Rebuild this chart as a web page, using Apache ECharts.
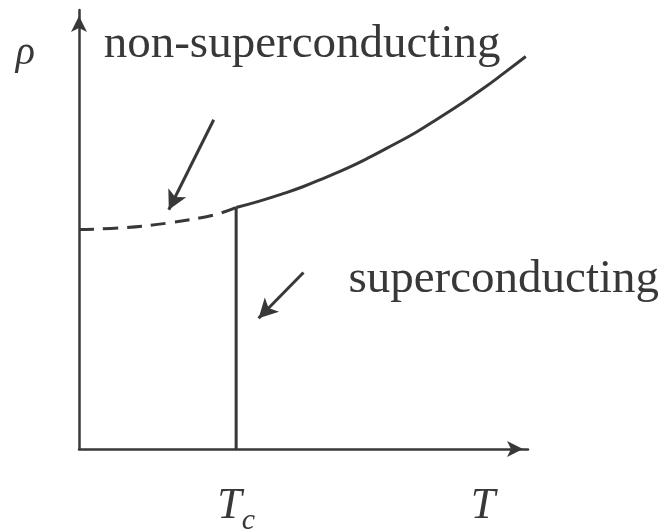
<!DOCTYPE html>
<html>
<head>
<meta charset="utf-8">
<script src="https://cdn.jsdelivr.net/npm/echarts@6/dist/echarts.min.js"></script>
<style>
  html, body { margin: 0; padding: 0; background: #ffffff; }
  #chart { width: 660px; height: 530px; }
</style>
</head>
<body>
<div id="chart"></div>
<script>
// Resistivity vs temperature for a superconductor (schematic)
const criticalT = 3.5;

// Extrapolated normal-state resistivity below Tc (dashed)
const belowTcT   = [0, 1, 2, 3, 3.5];
const belowTcRho = [5.0, 5.04, 5.15, 5.33, 5.5];

// Normal-state resistivity above Tc (solid)
const aboveTcT   = [3.5, 4, 4.5, 5, 5.5, 6, 6.5, 7, 7.5, 8, 8.5, 9, 9.5, 9.95];
const aboveTcRho = [5.5, 5.64, 5.80, 5.98, 6.19, 6.41, 6.66, 6.93, 7.21, 7.53, 7.86, 8.21, 8.59, 8.94];

// Drop to zero at Tc
const dropT   = [3.5, 3.5];
const dropRho = [0, 5.5];

// Axis tick labels
const xTickValues = [criticalT, 9];
const xTickLabels = ['{t|T}{s|c}', '{t|T}'];
const yTickValues = [9];
const yTickLabels = ['ρ'];

// Annotations: [label, anchor T, anchor rho]
const labelNonSC = ['non-superconducting', 0.55, 9.2];
const labelSC    = ['superconducting', 6.0, 3.85];

// Pointer arrows: [fromT, fromRho, toT, toRho]
const arrowNonSC = [3.0, 7.5, 2.0, 5.45];
const arrowSC    = [5.0, 4.02, 4.0, 2.98];

const ink = '#383838';
const serif = '"Liberation Serif", "DejaVu Serif", serif';

const zip = (a, b) => a.map((v, i) => [v, b[i]]);

const arrowLine = (a) => [{ coord: [a[0], a[1]] }, { coord: [a[2], a[3]] }];

const chart = echarts.init(document.getElementById('chart'), null, { renderer: 'canvas' });

chart.setOption({
  backgroundColor: '#ffffff',
  animation: false,
  grid: { left: 79, right: 132, top: 10, bottom: 81, outerBoundsMode: 'none' },
  xAxis: {
    type: 'value', min: 0, max: 10,
    splitLine: { show: false },
    axisTick: { show: false },
    axisLine: {
      onZero: false,
      symbol: ['none', 'arrow'], symbolSize: [12, 16], symbolOffset: [0, -5],
      lineStyle: { color: ink, width: 2.5 }
    },
    axisLabel: {
      customValues: xTickValues,
      margin: 27,
      formatter: (v) => xTickLabels[xTickValues.indexOf(v)],
      rich: {
        t: { fontFamily: serif, fontStyle: 'italic', fontSize: 44, color: ink, lineHeight: 60 },
        s: { fontFamily: serif, fontStyle: 'italic', fontSize: 30, color: ink, verticalAlign: 'bottom' }
      }
    }
  },
  yAxis: {
    type: 'value', min: 0, max: 10,
    splitLine: { show: false },
    axisTick: { show: false },
    axisLine: {
      onZero: false,
      symbol: ['none', 'arrow'], symbolSize: [12, 16], symbolOffset: [0, -6],
      lineStyle: { color: ink, width: 2.5 }
    },
    axisLabel: {
      customValues: yTickValues,
      margin: 44,
      formatter: (v) => yTickLabels[yTickValues.indexOf(v)],
      fontFamily: serif, fontStyle: 'italic', fontSize: 40, color: ink
    }
  },
  series: [
    {
      name: 'below Tc', type: 'line', data: zip(belowTcT, belowTcRho),
      smooth: 0.4, showSymbol: false,
      lineStyle: { color: ink, width: 3, type: [15, 9] },
      markLine: {
        silent: true, symbol: ['none', 'arrow'], symbolSize: [15, 19],
        label: { show: false },
        lineStyle: { color: ink, width: 3, type: 'solid' },
        data: [arrowLine(arrowNonSC), arrowLine(arrowSC)]
      }
    },
    {
      name: 'above Tc', type: 'line', data: zip(aboveTcT, aboveTcRho),
      smooth: 0.5, showSymbol: false,
      lineStyle: { color: ink, width: 3 },
      markPoint: {
        symbol: 'circle', symbolSize: 0,
        label: {
          show: true, position: 'right', distance: 0,
          fontFamily: serif, fontSize: 47, color: ink
        },
        data: [
          { coord: [labelNonSC[1], labelNonSC[2]], label: { formatter: labelNonSC[0] } },
          { coord: [labelSC[1], labelSC[2]], label: { formatter: labelSC[0] } }
        ]
      }
    },
    {
      name: 'drop', type: 'line', data: zip(dropT, dropRho),
      showSymbol: false,
      lineStyle: { color: ink, width: 3 }
    }
  ]
});
</script>
</body>
</html>
